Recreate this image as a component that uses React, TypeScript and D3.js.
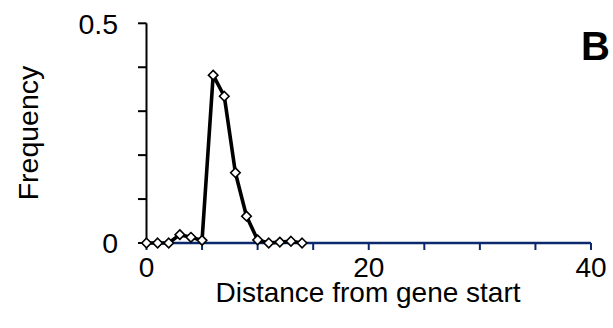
import React from "react";
import * as d3 from "d3";

const distances = [0, 1, 2, 3, 4, 5, 6, 7, 8, 9, 10, 11, 12, 13, 14];
const frequencies = [0, 0, 0, 0.019, 0.013, 0.006, 0.382, 0.334, 0.16, 0.061, 0.007, 0, 0.002, 0.004, 0];
const yTicks = [0, 0.1, 0.2, 0.3, 0.4, 0.5];
const yTickLabels = ["0", "", "", "", "", "0.5"];
const xTicks = [0, 5, 10, 15, 20, 25, 30, 35, 40];
const xTickLabels = ["0", "", "", "", "20", "", "", "", "40"];

export default function App() {
  const W = 613, H = 328;
  const x = d3.scaleLinear().domain([0, 40]).range([146.5, 591]);
  const y = d3.scaleLinear().domain([0, 0.5]).range([243, 23.3]);
  const line = d3.line<number>().x((_, i) => x(distances[i])).y((d) => y(d));
  const diamond = d3.symbol().type(d3.symbolDiamond2).size(58)();
  const font = "'Liberation Sans', Arial, sans-serif";
  return (
    <svg width={W} height={H} style={{ position: "absolute", left: 0, top: 0, background: "#fff" }}>
      {/* y axis */}
      <line x1={x(0)} x2={x(0)} y1={y(0.5)} y2={y(0)} stroke="#000" strokeWidth={2} />
      {yTicks.map((t, i) => (
        <g key={i}>
          <line x1={x(0) - 8.5} x2={x(0)} y1={y(t)} y2={y(t)} stroke="#000" strokeWidth={2} />
          {yTickLabels[i] && (
            <text x={118} y={y(t)} dy="0.36em" textAnchor="end" fontFamily={font} fontSize={28.5}>
              {yTickLabels[i]}
            </text>
          )}
        </g>
      ))}
      {/* x axis */}
      <line x1={x(0)} x2={x(40)} y1={y(0)} y2={y(0)} stroke="#0b2a6e" strokeWidth={2.5} />
      {xTicks.map((t, i) => (
        <g key={i}>
          <line x1={x(t)} x2={x(t)} y1={y(0)} y2={y(0) + 7} stroke="#0b2a6e" strokeWidth={2} />
          {xTickLabels[i] && (
            <text x={x(t)} y={277} textAnchor="middle" fontFamily={font} fontSize={28}>
              {xTickLabels[i]}
            </text>
          )}
        </g>
      ))}
      <text x={368} y={302} textAnchor="middle" fontFamily={font} fontSize={28}>
        Distance from gene start
      </text>
      <text transform="translate(38,133) rotate(-90)" textAnchor="middle" fontFamily={font} fontSize={28.5}>
        Frequency
      </text>
      <text x={581} y={60} fontFamily={font} fontSize={40} fontWeight="bold">B</text>
      {/* series */}
      <path d={line(frequencies) || ""} fill="none" stroke="#000" strokeWidth={3.6} strokeLinejoin="round" />
      {frequencies.map((f, i) => (
        <path key={i} d={diamond || ""} transform={`translate(${x(distances[i])},${y(f)})`} fill="#fff" stroke="#000" strokeWidth={1.6} />
      ))}
    </svg>
  );
}
